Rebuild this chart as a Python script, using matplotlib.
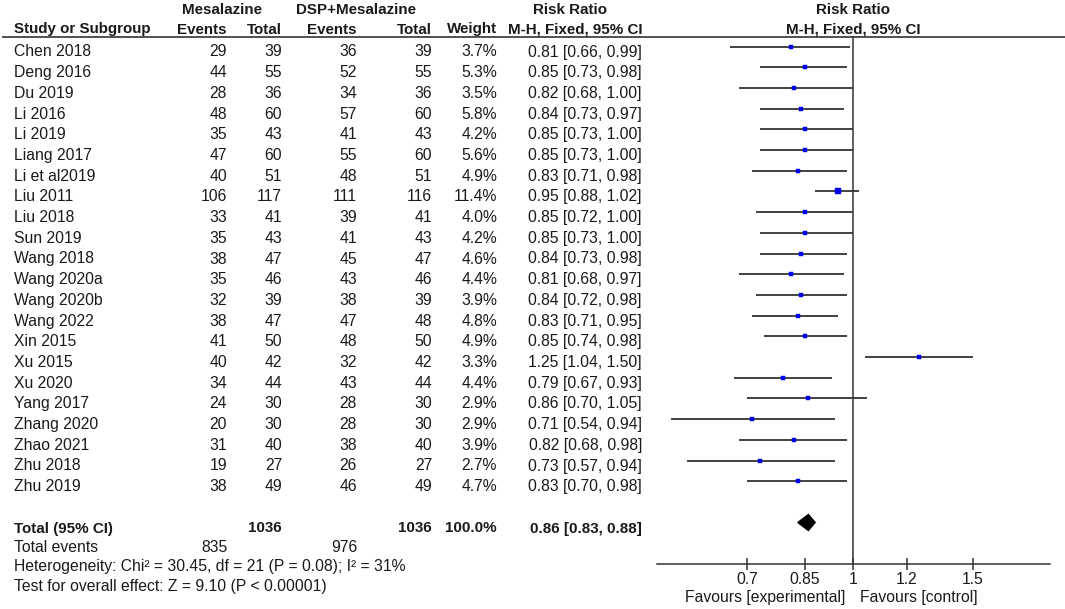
# Forest plot: Mesalazine vs DSP+Mesalazine, risk ratio (M-H, fixed)

# --------------------------------------------------------------------
# 0. Import
# --------------------------------------------------------------------

import numpy as np
import matplotlib

matplotlib.use("Agg")
import matplotlib.pyplot as plt
from matplotlib.patches import Polygon
from matplotlib.ticker import NullLocator

# --------------------------------------------------------------------
# 1. Data
# --------------------------------------------------------------------

STUDIES = [
    "Chen 2018", "Deng 2016", "Du 2019", "Li 2016", "Li 2019", "Liang 2017",
    "Li et al2019", "Liu 2011", "Liu 2018", "Sun 2019", "Wang 2018",
    "Wang 2020a", "Wang 2020b", "Wang 2022", "Xin 2015", "Xu 2015",
    "Xu 2020", "Yang 2017", "Zhang 2020", "Zhao 2021", "Zhu 2018", "Zhu 2019",
]
EVENTS_MES = [29, 44, 28, 48, 35, 47, 40, 106, 33, 35, 38, 35, 32, 38, 41, 40, 34, 24, 20, 31, 19, 38]
TOTAL_MES = [39, 55, 36, 60, 43, 60, 51, 117, 41, 43, 47, 46, 39, 47, 50, 42, 44, 30, 30, 40, 27, 49]
EVENTS_DSP = [36, 52, 34, 57, 41, 55, 48, 111, 39, 41, 45, 43, 38, 47, 48, 32, 43, 28, 28, 38, 26, 46]
TOTAL_DSP = [39, 55, 36, 60, 43, 60, 51, 116, 41, 43, 47, 46, 39, 48, 50, 42, 44, 30, 30, 40, 27, 49]
WEIGHTS = [3.7, 5.3, 3.5, 5.8, 4.2, 5.6, 4.9, 11.4, 4.0, 4.2, 4.6, 4.4, 3.9, 4.8, 4.9, 3.3, 4.4, 2.9, 2.9, 3.9, 2.7, 4.7]
RR = [0.81, 0.85, 0.82, 0.84, 0.85, 0.85, 0.83, 0.95, 0.85, 0.85, 0.84, 0.81, 0.84, 0.83, 0.85, 1.25, 0.79, 0.86, 0.71, 0.82, 0.73, 0.83]
CI_LOW = [0.66, 0.73, 0.68, 0.73, 0.73, 0.73, 0.71, 0.88, 0.72, 0.73, 0.73, 0.68, 0.72, 0.71, 0.74, 1.04, 0.67, 0.70, 0.54, 0.68, 0.57, 0.70]
CI_HIGH = [0.99, 0.98, 1.00, 0.97, 1.00, 1.00, 0.98, 1.02, 1.00, 1.00, 0.98, 0.97, 0.98, 0.95, 0.98, 1.50, 0.93, 1.05, 0.94, 0.98, 0.94, 0.98]

TOTAL_N = [1036, 1036]
TOTAL_EVENTS = [835, 976]
TOTAL_RR = [0.86, 0.83, 0.88]
HETEROGENEITY = "Heterogeneity: Chi\u00b2 = 30.45, df = 21 (P = 0.08); I\u00b2 = 31%"
OVERALL = "Test for overall effect: Z = 9.10 (P < 0.00001)"

TICKS = [0.7, 0.85, 1, 1.2, 1.5]
TICK_LABELS = ["0.7", "0.85", "1", "1.2", "1.5"]

# --------------------------------------------------------------------
# 2. Layout (pixels, figure is 1065 x 609)
# --------------------------------------------------------------------

W, H = 1065, 609
FONT = "Liberation Sans"
FS = 11.35
FS_B = 10.9
TXT = "#1a1a1a"
LINE = "#333333"

ROW0 = 46.5       # y of first CI line
STEP = 20.7       # row spacing
BASE = 10.0       # text baseline below line y
Y_TOTAL = 522.5
Y_AXIS = 564
Y_HEAD_LINE = 36.5

X_NAME = 14
X_EV1, X_TOT1, X_EV2, X_TOT2, X_W, X_RR = 227, 282, 357, 432, 497, 642

# forest panel: x=657..1050 px, log scale, 1 at 853
PX_PER_LN = 296.0
X_ONE = 853
X_F0, X_F1 = 657, 1050


def txt(ax, x, y, s, ha="left", bold=False, **kw):
    ax.text(x, y, s, ha=ha, va="baseline", color=TXT, family=FONT,
            fontsize=FS_B if bold else FS,
            fontweight="bold" if bold else "normal", **kw)


# --------------------------------------------------------------------
# 3. Table part
# --------------------------------------------------------------------


def draw_table(ax):
    # headers
    txt(ax, 222, 14.5, "Mesalazine", ha="center", bold=True)
    txt(ax, 356, 14.5, "DSP+Mesalazine", ha="center", bold=True)
    txt(ax, 570, 14.5, "Risk Ratio", ha="center", bold=True)
    txt(ax, X_ONE, 14.5, "Risk Ratio", ha="center", bold=True)
    hy = 33.5
    txt(ax, X_NAME, hy, "Study or Subgroup", bold=True)
    txt(ax, X_EV1, hy, "Events", ha="right", bold=True)
    txt(ax, X_TOT1, hy, "Total", ha="right", bold=True)
    txt(ax, X_EV2, hy, "Events", ha="right", bold=True)
    txt(ax, X_TOT2, hy, "Total", ha="right", bold=True)
    txt(ax, X_W, hy, "Weight", ha="right", bold=True)
    txt(ax, X_RR, hy, "M-H, Fixed, 95% CI", ha="right", bold=True)
    txt(ax, X_ONE, hy, "M-H, Fixed, 95% CI", ha="center", bold=True)
    ax.plot([2, W], [Y_HEAD_LINE, Y_HEAD_LINE], color=LINE, lw=1.2,
            solid_capstyle="butt")

    # study rows
    for i, name in enumerate(STUDIES):
        y = ROW0 + STEP * i + BASE
        txt(ax, X_NAME, y, name)
        txt(ax, X_EV1, y, str(EVENTS_MES[i]), ha="right")
        txt(ax, X_TOT1, y, str(TOTAL_MES[i]), ha="right")
        txt(ax, X_EV2, y, str(EVENTS_DSP[i]), ha="right")
        txt(ax, X_TOT2, y, str(TOTAL_DSP[i]), ha="right")
        txt(ax, X_W, y, f"{WEIGHTS[i]:.1f}%", ha="right")
        txt(ax, X_RR, y, f"{RR[i]:.2f} [{CI_LOW[i]:.2f}, {CI_HIGH[i]:.2f}]", ha="right")

    # totals
    y = 532.5
    txt(ax, X_NAME, y, "Total (95% CI)", bold=True)
    txt(ax, X_TOT1, y, str(TOTAL_N[0]), ha="right", bold=True)
    txt(ax, X_TOT2, y, str(TOTAL_N[1]), ha="right", bold=True)
    txt(ax, X_W, y, f"{sum(WEIGHTS):.1f}%", ha="right", bold=True)
    txt(ax, X_RR, y, f"{TOTAL_RR[0]:.2f} [{TOTAL_RR[1]:.2f}, {TOTAL_RR[2]:.2f}]",
        ha="right", bold=True)
    txt(ax, X_NAME, 551.5, "Total events")
    txt(ax, X_EV1 + 1, 551.5, str(TOTAL_EVENTS[0]), ha="right")
    txt(ax, X_EV2, 551.5, str(TOTAL_EVENTS[1]), ha="right")
    txt(ax, X_NAME, 571.5, HETEROGENEITY)
    txt(ax, X_NAME, 591.5, OVERALL)

    txt(ax, 845, 602, "Favours [experimental]", ha="right")
    txt(ax, 860, 602, "Favours [control]")


# --------------------------------------------------------------------
# 4. Forest part
# --------------------------------------------------------------------


def draw_forest(fig):
    ax = fig.add_axes([X_F0 / W, 0, (X_F1 - X_F0) / W, 1])
    ax.patch.set_visible(False)
    ax.set_xscale("log")
    lo = np.exp((X_F0 - X_ONE) / PX_PER_LN)
    hi = np.exp((X_F1 - X_ONE) / PX_PER_LN)
    ax.set_xlim(lo, hi)
    ax.set_ylim(H, 0)

    for s in ("left", "right", "top"):
        ax.spines[s].set_visible(False)
    ax.spines["bottom"].set_position(("data", Y_AXIS))
    ax.spines["bottom"].set_color(LINE)
    ax.spines["bottom"].set_linewidth(1.1)
    ax.set_yticks([])
    ax.set_xticks(TICKS)
    ax.xaxis.set_minor_locator(NullLocator())
    ax.tick_params(axis="x", direction="inout", length=8, width=1.1,
                   color=LINE, labelbottom=False)
    for t, lab in zip(TICKS, TICK_LABELS):
        ax.text(t, 584.5, lab, ha="center", va="baseline", color=TXT,
                family=FONT, fontsize=FS)

    # line of no effect
    ax.plot([1, 1], [Y_HEAD_LINE, Y_AXIS], color=LINE, lw=1.1)

    # study CIs and point estimates
    ys = ROW0 + STEP * np.arange(len(STUDIES))
    ax.hlines(ys, CI_LOW, CI_HIGH, color=LINE, lw=1.3)
    for i, y in enumerate(ys):
        side = 1.9 * np.sqrt(WEIGHTS[i]) * 0.72
        ax.plot(RR[i], y, marker="s", ms=side, color="#0000ee", mec="#0000ee",
                mew=0.3, zorder=3)

    # pooled diamond
    est, dlo, dhi = TOTAL_RR
    dia = Polygon([[dlo, Y_TOTAL], [est, Y_TOTAL - 8], [dhi, Y_TOTAL],
                   [est, Y_TOTAL + 8]], closed=True, color="black")
    ax.add_patch(dia)
    return ax


# --------------------------------------------------------------------
# 5. Main
# --------------------------------------------------------------------


def main():
    fig = plt.figure(figsize=(W / 100, H / 100), dpi=100)
    ax = fig.add_axes([0, 0, 1, 1])
    ax.set_xlim(0, W)
    ax.set_ylim(H, 0)
    ax.axis("off")
    draw_table(ax)
    draw_forest(fig)
    fig.savefig("out.png", dpi=100, facecolor="white")


if __name__ == "__main__":
    main()
